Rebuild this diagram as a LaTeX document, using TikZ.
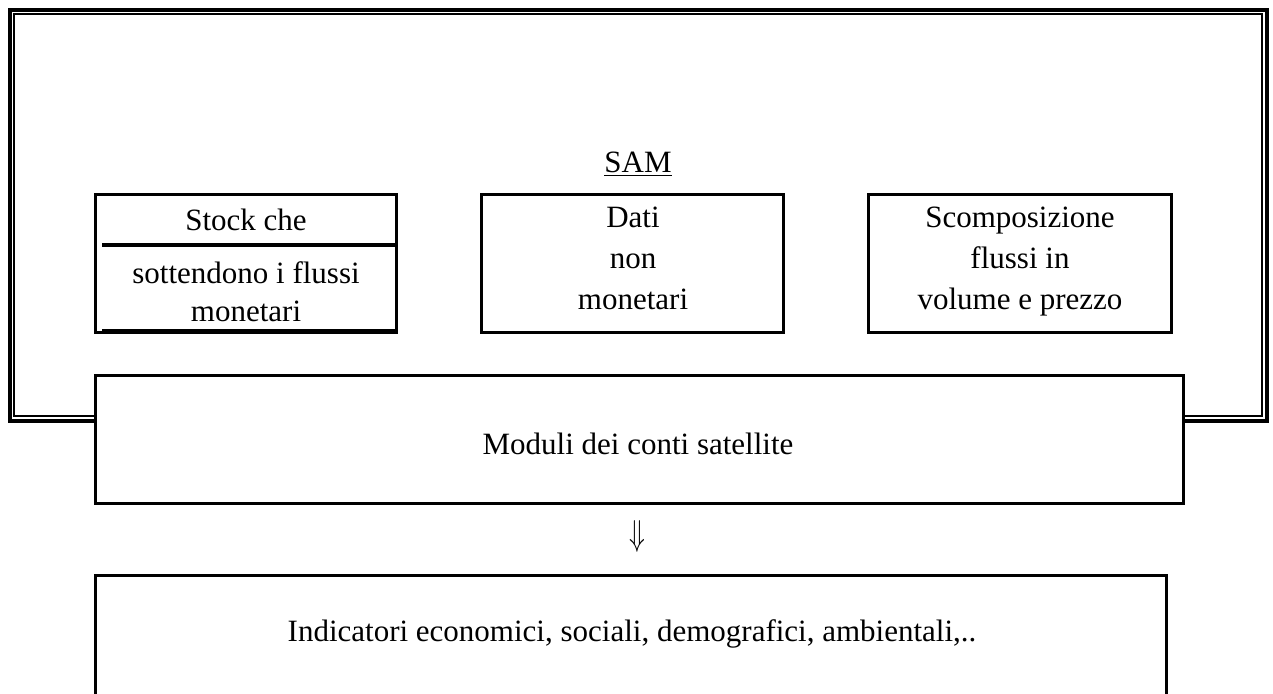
\documentclass[tikz,border=0pt]{standalone}
\usepackage{fontspec}
\setmainfont{Liberation Serif}
\usetikzlibrary{positioning}

\begin{document}
\begin{tikzpicture}[x=0.5pt,y=-0.5pt,
    box/.style={draw,line width=1.5pt,fill=white,inner sep=0pt},
    txt/.style={anchor=base,inner sep=0pt,font=\fontsize{15.5}{20.5}\selectfont}]
            \useasboundingbox (0,0) rectangle (1273,693);
            \clip (0,0) rectangle (1273,693);
            % double frame of the SAM
            \draw[line width=2pt] (10,10) rectangle (1267,421);
            \draw[line width=1pt] (14,14) rectangle (1262,416);
            \node[txt] (sam) at (638,172) {\underline{SAM}};
            % the three inner boxes
            \node[box,minimum width=150.5pt,minimum height=69pt] (stock) at (245.5,263) {};
            \node[box,minimum width=150.75pt,minimum height=69pt] (dati) at (632.25,263) {};
            \node[box,minimum width=151.5pt,minimum height=69pt] (scomp) at (1019.5,263) {};
            \draw[line width=2pt] (102,245)--(395,245);
            \draw[line width=2pt] (102,331)--(395,331);
            \node[txt] (stock1) at (246,230) {Stock che};
            \node[txt] (stock2) at (246,283) {sottendono i flussi};
            \node[txt] (stock3) at (246,321) {monetari};
            \node[txt] (dati1) at (633,227) {Dati};
            \node[txt] (dati2) at (633,268) {non};
            \node[txt] (dati3) at (633,309) {monetari};
            \node[txt] (scomp1) at (1020,227) {Scomposizione};
            \node[txt] (scomp2) at (1020,268) {flussi in};
            \node[txt] (scomp3) at (1020,309) {volume e prezzo};
            % satellite modules and indicators
            \node[box,minimum width=544pt,minimum height=64pt] (moduli) at (639,439) {};
            \node[txt] (modulitxt) at (638,454) {Moduli dei conti satellite};
            \node[txt] (freccia) at (637,545) {\scalebox{0.9}[1.25]{$\Downarrow$}};
            \node[box,minimum width=535.5pt,minimum height=72.5pt] (indic) at (630.5,647.5) {};
            \node[txt] (indictxt) at (632,641) {Indicatori economici, sociali, demografici, ambientali,..};
        \end{tikzpicture}
\end{document}
